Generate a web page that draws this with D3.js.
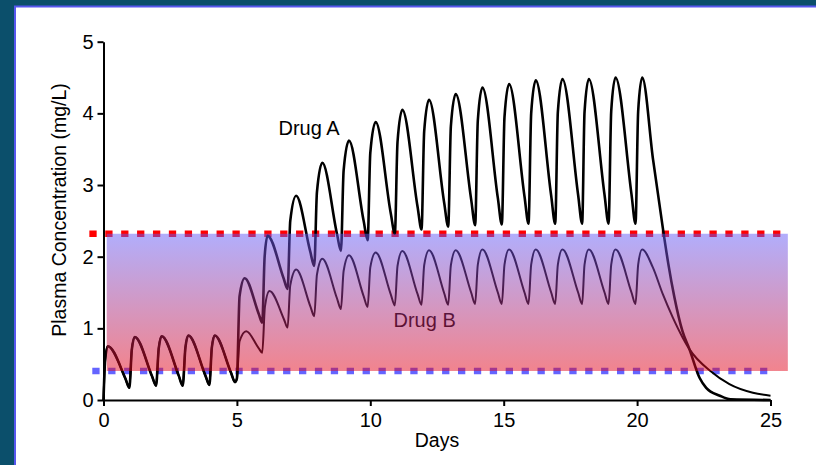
<!DOCTYPE html>
<html>
<head>
	<title>Plasma concentration</title>
	<style type="text/css">
		html, body{
			margin: 0;
			overflow: hidden;
			background-color: white;
		}
		#container{
			display: block;
		}
		#container text{
			font-family: "Liberation Sans", Arial, sans-serif;
		}
	</style>
</head>
<body>
	<svg id="container" width="816" height="465">
		<g id="frame"></g>
		<g id="marks"></g>
		<g id="yAxis"></g>
		<g id="xAxis"></g>
	</svg>

<script src="https://cdn.jsdelivr.net/npm/d3@7"></script>
<script type="text/javascript">
	// values (days, mg/L)
	let xTicks = [0, 5, 10, 15, 20, 25]
	let yTicks = [0, 1, 2, 3, 4, 5]

	// days 0-5, both drugs on the same curve
	let sharedDays = [0, 0.06, 0.16, 0.82, 0.97, 1.06, 1.17, 1.82, 1.97, 2.07, 2.18, 2.82, 2.97,
		3.07, 3.18, 3.82, 3.97, 4.06, 4.17, 4.78, 4.93]
	let sharedConc = [0, 0.55, 0.75, 0.3, 0.17, 0.7, 0.88, 0.33, 0.2, 0.72, 0.89, 0.34, 0.2,
		0.73, 0.9, 0.34, 0.21, 0.73, 0.9, 0.38, 0.25]

	let drugADays = [5.0, 5.1, 5.29, 5.82, 5.95,
		6.04, 6.15, 6.75, 6.9,
		7.0, 7.22, 7.75, 7.9,
		8.0, 8.2, 8.75, 8.9,
		9.0, 9.2, 9.75, 9.9,
		10.0, 10.2, 10.77, 10.92,
		11.02, 11.2, 11.77, 11.92,
		12.02, 12.2, 12.77, 12.92,
		13.02, 13.2, 13.78, 13.93,
		14.03, 14.2, 14.78, 14.93,
		15.03, 15.2, 15.78, 15.93,
		16.03, 16.2, 16.78, 16.93,
		17.03, 17.2, 17.79, 17.94,
		18.03, 18.19, 18.78, 18.93,
		19.03, 19.19, 19.79, 19.94,
		20.04, 20.19, 20.6, 20.98, 21.17, 21.4, 21.7, 21.96, 22.34, 22.59, 23.1, 23.5, 25]
	let drugAConc = [0.3, 1.45, 1.70, 1.2, 1.08,
		2.0, 2.29, 1.7, 1.55,
		2.5, 2.85, 2.07, 1.87,
		2.9, 3.31, 2.32, 2.08,
		3.2, 3.62, 2.5, 2.23,
		3.45, 3.88, 2.6, 2.32,
		3.6, 4.05, 2.7, 2.38,
		3.75, 4.19, 2.75, 2.42,
		3.82, 4.27, 2.8, 2.44,
		3.9, 4.36, 2.82, 2.45,
		3.95, 4.41, 2.84, 2.46,
		4.0, 4.46, 2.85, 2.46,
		4.02, 4.48, 2.86, 2.46,
		4.02, 4.48, 2.86, 2.46,
		4.03, 4.5, 2.87, 2.46,
		4.03, 4.5, 3.35, 2.36, 1.9, 1.43, 0.96, 0.71, 0.31, 0.17, 0.06, 0.01, 0]

	let drugBDays = [5.0, 5.1, 5.35, 5.82, 5.95,
		6.05, 6.22, 6.77, 6.9,
		7.0, 7.22, 7.76, 7.9,
		8.0, 8.2, 8.75, 8.9,
		9.0, 9.2, 9.75, 9.9,
		10.0, 10.2, 10.77, 10.92,
		11.02, 11.2, 11.77, 11.92,
		12.02, 12.2, 12.77, 12.92,
		13.02, 13.2, 13.78, 13.93,
		14.03, 14.2, 14.78, 14.93,
		15.03, 15.2, 15.78, 15.93,
		16.03, 16.2, 16.78, 16.93,
		17.03, 17.2, 17.79, 17.94,
		18.03, 18.19, 18.78, 18.93,
		19.03, 19.19, 19.79, 19.94,
		20.04, 20.19, 20.59, 20.96, 21.34, 21.71, 21.96, 22.76, 23.46, 24.34, 25]
	let drugBConc = [0.3, 0.82, 0.96, 0.72, 0.66,
		1.3, 1.52, 1.12, 1.01,
		1.6, 1.82, 1.3, 1.17,
		1.75, 1.97, 1.42, 1.27,
		1.8, 2.02, 1.45, 1.30,
		1.85, 2.06, 1.47, 1.32,
		1.87, 2.08, 1.48, 1.33,
		1.88, 2.09, 1.49, 1.33,
		1.88, 2.09, 1.5, 1.34,
		1.89, 2.1, 1.5, 1.34,
		1.89, 2.1, 1.5, 1.34,
		1.89, 2.1, 1.5, 1.34,
		1.89, 2.1, 1.5, 1.34,
		1.89, 2.1, 1.5, 1.34,
		1.89, 2.1, 1.5, 1.34,
		1.89, 2.1, 1.85, 1.48, 1.15, 0.87, 0.71, 0.40, 0.22, 0.10, 0.06]

	// therapeutic window
	let upperLimit = 2.32
	let lowerLimit = 0.405

	let container = d3.select("#container")
	let frame = d3.select("#frame")
	let marks = d3.select("#marks")

	let x = d3.scaleLinear().domain([0, 25]).range([103.5, 770.5])
	let y = d3.scaleLinear().domain([0, 5]).range([400, 41.7])

	// teal surround, blue rule on the left and top edges of the white panel
	frame.append("rect").attr("x", 0).attr("y", 0).attr("width", 816).attr("height", 465).attr("fill", "#0b4f6b")
	frame.append("rect").attr("x", 14).attr("y", 5.5).attr("width", 802).attr("height", 460).attr("fill", "#5757ee")
	frame.append("rect").attr("x", 16).attr("y", 7.5).attr("width", 800).attr("height", 458).attr("fill", "white")

	let defs = container.append("defs")
	let grad = defs.append("linearGradient").attr("id", "window")
		.attr("x1", 0).attr("y1", 0).attr("x2", 0).attr("y2", 1)
	grad.append("stop").attr("offset", "0%").attr("stop-color", "rgb(100,92,248)").attr("stop-opacity", 0.5)
	grad.append("stop").attr("offset", "100%").attr("stop-color", "rgb(228,8,28)").attr("stop-opacity", 0.5)

	// dashed limit lines (under the band)
	marks.append("line")
		.attr("x1", x(-0.53)).attr("x2", x(25.45))
		.attr("y1", y(upperLimit)).attr("y2", y(upperLimit))
		.attr("stroke", "#ff0000").attr("stroke-width", 6.5).attr("stroke-dasharray", "7.3,8.6")
	marks.append("line")
		.attr("x1", x(-0.42)).attr("x2", x(24.88))
		.attr("y1", y(lowerLimit)).attr("y2", y(lowerLimit))
		.attr("stroke", "#6464ff").attr("stroke-width", 6.5).attr("stroke-dasharray", "7.3,8.6")

	let line = d3.line()
		.x(d => x(d[0]))
		.y(d => y(d[1]))
		.curve(d3.curveMonotoneX)

	let shared = sharedDays.map((d, i) => [d, sharedConc[i]])
	let drugA = shared.concat(drugADays.map((d, i) => [d, drugAConc[i]]))
	let drugB = shared.concat(drugBDays.map((d, i) => [d, drugBConc[i]]))

	marks.append("path").datum(drugB)
		.attr("d", line).attr("fill", "none").attr("stroke", "black")
		.attr("stroke-width", 2).attr("stroke-linejoin", "round")
	marks.append("path").datum(drugA)
		.attr("d", line).attr("fill", "none").attr("stroke", "black")
		.attr("stroke-width", 2.6).attr("stroke-linejoin", "round")

	marks.append("text").text("Drug A").attr("x", 278.5).attr("y", 135).attr("font-size", "20px")
	marks.append("text").text("Drug B").attr("x", 393.5).attr("y", 327).attr("font-size", "20px")

	// translucent band on top of everything
	marks.append("rect")
		.attr("x", x(0.12)).attr("width", x(25.65) - x(0.12))
		.attr("y", y(upperLimit)).attr("height", y(lowerLimit) - y(upperLimit))
		.attr("fill", "url(#window)")

	let yAxis = d3.axisLeft(y).tickValues(yTicks).tickFormat(d3.format("d"))
		.tickSize(6).tickSizeOuter(0).tickPadding(4)
	d3.select("#yAxis").attr("transform", "translate(103.5,0)").call(yAxis)

	let xAxis = d3.axisBottom(x).tickValues(xTicks).tickFormat(d3.format("d"))
		.tickSize(6).tickSizeOuter(0).tickPadding(7)
	d3.select("#xAxis").attr("transform", "translate(0,400)").call(xAxis)

	container.selectAll(".domain, .tick line").attr("stroke", "black").attr("stroke-width", 2)
	container.selectAll(".tick text").attr("font-size", "20px").attr("fill", "black")
		.attr("font-family", "Liberation Sans, Arial, sans-serif")

	container.append("text").text("Plasma Concentration (mg/L)")
		.attr("text-anchor", "middle").attr("font-size", "19.5px")
		.attr("transform", "translate(65.5,210) rotate(-90)")
	container.append("text").text("Days")
		.attr("text-anchor", "middle").attr("font-size", "19.5px")
		.attr("x", 437).attr("y", 447)
</script>
</body>
</html>
